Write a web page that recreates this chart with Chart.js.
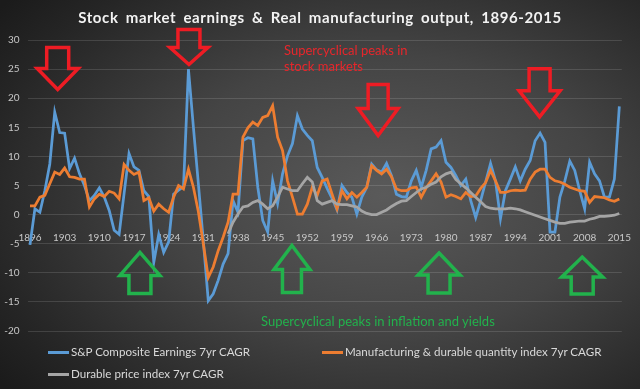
<!DOCTYPE html>
<html>
<head>
<meta charset="utf-8">
<script src="https://cdn.jsdelivr.net/npm/chart.js@4.4.1/dist/chart.umd.min.js"></script>
<style>
  html, body { margin: 0; padding: 0; }
  body {
    width: 640px; height: 389px; overflow: hidden;
    background: radial-gradient(ellipse 75% 80% at 60% 50%, #5a5a5a 0%, #444 45%, #252525 85%, #1b1b1b 100%);
    font-family: Lato, "Open Sans", sans-serif;
  }
  #wrap { position: relative; width: 640px; height: 389px; }
  #title {
    position: absolute; left: 0; top: 8px; width: 640px; text-align: center;
    color: #f2f2f2; font-weight: bold; font-size: 15px; letter-spacing: 0.6px; word-spacing: 3px;
  }
  .note { position: absolute; font-size: 13px; line-height: 16px; white-space: nowrap; }
  #redNote { left: 284px; top: 42px; color: #e8262b; }
  #greenNote { left: 261px; top: 313px; color: #22b24c; }
  .leg { position: absolute; font-size: 11.6px; color: #d9d9d9; white-space: nowrap; line-height: 14px; }
  .leg i { display: inline-block; width: 21px; height: 3px; vertical-align: middle; margin-right: 2px; position: relative; top: -1px; }
</style>
</head>
<body>
<div id="wrap">
  <canvas id="chart" width="640" height="389"></canvas>
  <div id="title">Stock market earnings &amp; Real manufacturing output, 1896-2015</div>
  <div class="note" id="redNote">Supercyclical peaks in<br>stock markets</div>
  <div class="note" id="greenNote">Supercyclical peaks in inflation and yields</div>
  <div id="legend"></div>
</div>
<script>
// years 1896..2015
const years = [];
for (let y = 1896; y <= 2015; y++) years.push(y);

const xTickLabels = [1896, 1903, 1910, 1917, 1924, 1931, 1938, 1945, 1952, 1959, 1966, 1973, 1980, 1987, 1994, 2001, 2008, 2015];
const yTicks = [-20, -15, -10, -5, 0, 5, 10, 15, 20, 25, 30];

const seriesNames = ['S&P Composite Earnings 7yr CAGR', 'Manufacturing & durable quantity index 7yr CAGR', 'Durable price index 7yr CAGR'];

const earnings = [
  -5.2, 1.0, 0.4, 4.1, 8.7, 17.6, 14.1, 14.0, 7.9, 9.7,
  7.0, 5.0, 2.4, 3.3, 4.6, 3.0, 0.7, -2.7, -3.4, 3.6,
  10.5, 8.2, 7.6, 4.1, 3.1, -8.2, -3.4, -6.5, -4.7, 3.5,
  4.2, 4.8, 25.0, 15.0, 5.3, -4.5, -14.8, -13.6, -11.3, -8.5,
  -6.7, 2.4, 0.4, 12.7, 13.2, 13.0, 4.7, -1.0, -3.0, 5.8,
  1.9, 7.0, 10.1, 12.2, 17.0, 14.7, 13.6, 12.7, 8.1, 6.4,
  4.5, 2.8, 0.8, 5.0, 3.8, 3.0, 0.1, 3.0, 4.7, 8.7,
  7.7, 7.3, 8.8, 6.7, 3.5, 3.1, 3.0, 5.8, 7.6, 4.7,
  7.6, 11.3, 11.6, 12.7, 9.0, 8.1, 6.7, 5.0, 6.1, 2.4,
  -0.5, 2.4, 5.6, 8.8, 5.8, -0.7, 4.1, 6.1, 8.2, 5.8,
  7.8, 9.3, 12.7, 14.0, 12.4, -3.0, -3.0, 3.0, 5.8, 9.2,
  7.6, 4.1, 1.0, 9.0, 7.0, 5.8, 3.0, 3.0, 6.1, 18.6
];

const manufacturing = [
  1.5, 1.5, 3.0, 3.3, 5.3, 7.3, 6.9, 8.0, 6.5, 6.4,
  6.1, 6.1, 1.3, 2.7, 3.5, 3.1, 4.0, 3.7, 2.7, 8.6,
  7.6, 6.9, 7.3, 2.4, 2.9, 0.6, 1.8, 1.0, 0.4, 3.0,
  5.0, 4.4, 7.8, 4.7, 0.5, -5.0, -10.8, -9.0, -6.2, -3.9,
  -1.3, 3.5, 3.5, 13.3, 14.9, 15.9, 15.3, 16.7, 17.0, 18.7,
  13.3, 11.0, 5.8, 3.0, 0.1, 0.1, 1.8, 4.7, 3.3, 5.8,
  6.1, 3.5, 1.0, 4.1, 2.7, 3.8, 3.0, 3.8, 4.7, 8.4,
  7.6, 7.0, 7.8, 6.5, 4.4, 4.1, 4.1, 4.6, 4.7, 3.0,
  4.6, 5.8, 7.0, 5.6, 3.0, 3.4, 3.1, 2.7, 3.8, 3.1,
  3.2, 4.5, 5.5, 7.6, 5.8, 3.8, 3.8, 4.1, 4.2, 4.1,
  4.2, 6.1, 7.3, 7.8, 7.8, 6.4, 5.8, 5.6, 5.2, 4.7,
  4.4, 4.1, 4.0, 2.1, 3.1, 3.0, 2.9, 2.5, 2.3, 2.7
];

const durablePrice = [
  null, null, null, null, null, null, null, null, null, null,
  null, null, null, null, null, null, null, null, null, null,
  null, null, null, null, null, null, null, null, null, null,
  null, null, null, null, null, null, null, null, null, null,
  -3.3, -1.3, 0.1, 1.3, 1.5, 2.1, 2.4, 1.8, 1.0, 1.5,
  3.0, 4.7, 4.4, 4.1, 4.1, 5.3, 6.4, 5.6, 2.4, 1.8,
  2.1, 2.4, 1.8, 1.7, 1.7, 1.5, 1.3, 0.6, 0.2, 0.0,
  0.0, 0.4, 0.8, 1.4, 1.9, 2.3, 2.4, 3.1, 3.8, 4.4,
  4.7, 5.2, 5.6, 6.5, 7.0, 7.3, 6.0, 5.3, 4.6, 3.8,
  3.0, 2.2, 1.4, 1.1, 1.0, 1.0, 1.0, 1.1, 1.0, 0.8,
  0.5, 0.2, -0.1, -0.4, -0.7, -1.0, -1.3, -1.5, -1.5, -1.3,
  -1.2, -1.1, -1.1, -0.8, -0.6, -0.3, -0.3, -0.2, -0.1, 0.2
];

const colors = ['#5b9bd5', '#ed7d31', '#a5a5a5'];

// hollow arrows: tip at (year, value), sizes in px
const arrows = [
  { dir: 'down', year: 1901.6, value: 21.5, w: 41, h: 42, shaft: 22, head: 21, color: '#ee1c24' },
  { dir: 'down', year: 1928.1, value: 25.8, w: 38, h: 35, shaft: 22, head: 17, color: '#ee1c24' },
  { dir: 'down', year: 1966.3, value: 13.6, w: 40, h: 51, shaft: 20, head: 27, color: '#ee1c24' },
  { dir: 'down', year: 1998.9, value: 16.8, w: 41, h: 48, shaft: 21, head: 26, color: '#ee1c24' },
  { dir: 'up', year: 1918.2, value: -6.5, w: 40, h: 41, shaft: 22, head: 23, color: '#22b24c' },
  { dir: 'up', year: 1948.9, value: -5.3, w: 36, h: 47, shaft: 19, head: 24, color: '#22b24c' },
  { dir: 'up', year: 1978.6, value: -6.6, w: 42, h: 40, shaft: 22, head: 22, color: '#22b24c' },
  { dir: 'up', year: 2007.5, value: -7.3, w: 41, h: 37, shaft: 22, head: 20, color: '#22b24c' }
];

const arrowPlugin = {
  id: 'arrows',
  afterDatasetsDraw(chart) {
    const ctx = chart.ctx;
    const xs = chart.scales.x, ys = chart.scales.y;
    arrows.forEach(a => {
      const tx = xs.getPixelForValue(a.year - years[0]);
      const ty = ys.getPixelForValue(a.value);
      const s = a.dir === 'down' ? -1 : 1;
      ctx.save();
      ctx.beginPath();
      ctx.moveTo(tx, ty);
      ctx.lineTo(tx + a.w / 2, ty + s * a.head);
      ctx.lineTo(tx + a.shaft / 2, ty + s * a.head);
      ctx.lineTo(tx + a.shaft / 2, ty + s * a.h);
      ctx.lineTo(tx - a.shaft / 2, ty + s * a.h);
      ctx.lineTo(tx - a.shaft / 2, ty + s * a.head);
      ctx.lineTo(tx - a.w / 2, ty + s * a.head);
      ctx.closePath();
      ctx.lineWidth = 3.5;
      ctx.lineJoin = 'miter';
      ctx.strokeStyle = a.color;
      ctx.stroke();
      ctx.restore();
    });
  }
};

const chart = new Chart(document.getElementById('chart').getContext('2d'), {
  type: 'line',
  data: {
    labels: years,
    datasets: [
      { label: seriesNames[0], data: earnings, borderColor: colors[0], order: 3 },
      { label: seriesNames[1], data: manufacturing, borderColor: colors[1], order: 2 },
      { label: seriesNames[2], data: durablePrice, borderColor: colors[2], order: 1 }
    ]
  },
  options: {
    responsive: false,
    animation: false,
    layout: { padding: { top: 40, bottom: 58, right: 17.5, left: 0 } },
    elements: {
      line: { borderWidth: 2.75, tension: 0 },
      point: { radius: 0 }
    },
    plugins: { legend: { display: false }, tooltip: { enabled: false }, title: { display: false } },
    scales: {
      x: {
        type: 'category',
        offset: true,
        position: { y: 0 },
        grid: { display: false },
        border: { display: false },
        ticks: {
          autoSkip: false, maxRotation: 0, padding: 9,
          color: '#c8c8c8', font: { family: 'Lato', size: 10 },
          callback(v, i) { return xTickLabels.includes(years[i]) ? String(years[i]) : ''; }
        }
      },
      y: {
        min: -20, max: 30,
        afterFit(scale) { scale.width = 27.5; },
        afterBuildTicks(scale) { scale.ticks = yTicks.map(v => ({ value: v })); },
        grid: { color: 'rgba(255,255,255,0.13)', lineWidth: 1, drawTicks: false },
        border: { display: false },
        ticks: { padding: 8, color: '#c8c8c8', font: { family: 'Lato', size: 10 } }
      }
    }
  },
  plugins: [arrowPlugin]
});

// legend laid out in two columns like the original
const legendPos = [[48, 345], [322, 345], [48, 367]];
const legend = document.getElementById('legend');
seriesNames.forEach((name, i) => {
  const d = document.createElement('div');
  d.className = 'leg';
  d.style.left = legendPos[i][0] + 'px';
  d.style.top = legendPos[i][1] + 'px';
  const sw = document.createElement('i');
  sw.style.background = colors[i];
  d.appendChild(sw);
  d.appendChild(document.createTextNode(name));
  legend.appendChild(d);
});
</script>
</body>
</html>
